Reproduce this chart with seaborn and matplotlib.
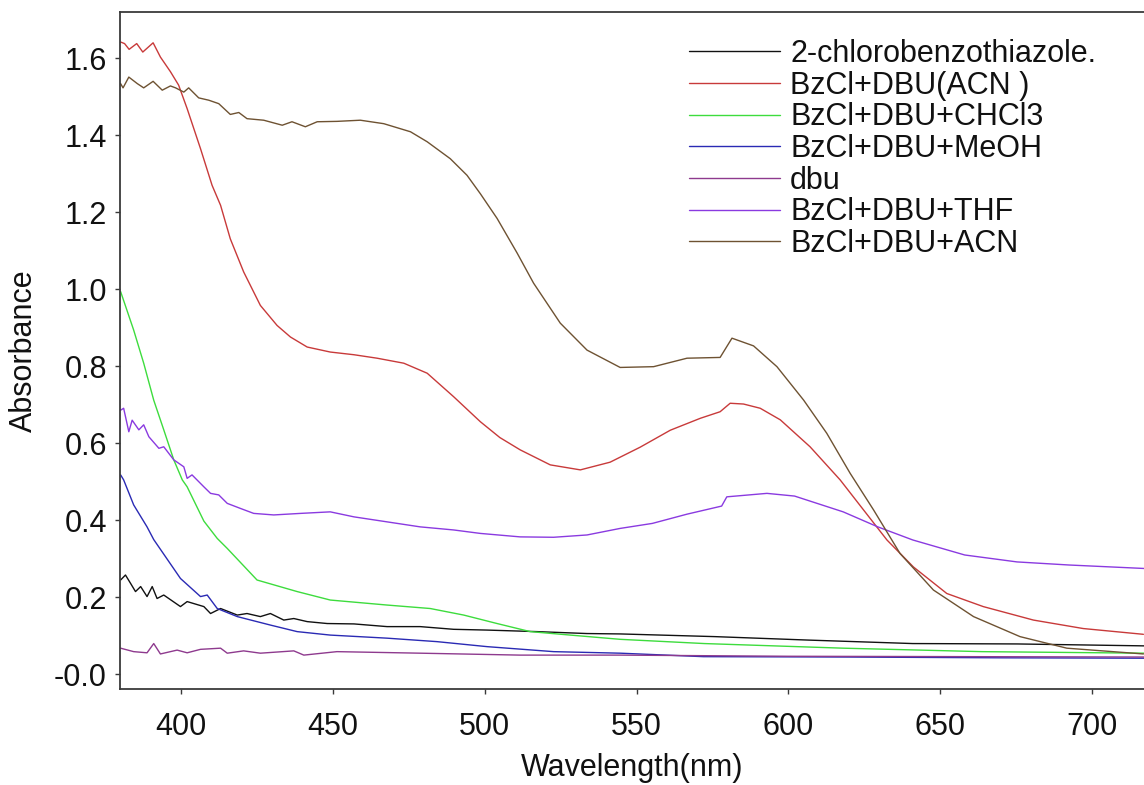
import numpy as np
import pandas as pd
import matplotlib
matplotlib.use("Agg")
import matplotlib.pyplot as plt
import seaborn as sns

# ---------------- data ----------------
series_names = ["2-chlorobenzothiazole.", "BzCl+DBU(ACN )", "BzCl+DBU+CHCl3",
                "BzCl+DBU+MeOH", "dbu", "BzCl+DBU+THF", "BzCl+DBU+ACN"]
series_colors = ["#111111", "#c83a3a", "#3ddc3d", "#2a2ab4", "#8e3a8e", "#8a3ae0", "#6e5232"]

chloro_x = [380.2, 381.8, 383.5, 385.1, 386.8, 388.9, 390.6, 392.2, 394.4, 399.9, 402.1, 407.6,
            409.8, 413.1, 418.6, 421.8, 426.2, 429.5, 433.9, 437.2, 441.6, 448.2, 457.0, 467.9,
            478.8, 489.8, 500.8, 517.2, 533.7, 544.6, 575.8, 606.6, 640.9, 675.2, 717.0]
chloro_y = [0.245, 0.258, 0.236, 0.215, 0.228, 0.202, 0.228, 0.197, 0.206, 0.176, 0.189, 0.176,
            0.158, 0.171, 0.154, 0.158, 0.150, 0.158, 0.141, 0.145, 0.137, 0.132, 0.131, 0.124,
            0.124, 0.117, 0.115, 0.111, 0.106, 0.105, 0.098, 0.089, 0.080, 0.079, 0.074]

acn1_x = [380.2, 381.5, 383.0, 385.5, 387.5, 390.9, 393.3, 396.6, 399.3, 402.1, 406.5, 410.3,
          413.1, 416.3, 420.7, 426.2, 431.7, 436.1, 441.6, 449.2, 457.0, 464.6, 473.4, 481.1,
          489.8, 498.6, 505.0, 511.7, 521.6, 531.5, 541.3, 551.2, 561.1, 571.0, 577.5, 580.8,
          585.2, 590.7, 597.3, 607.1, 617.0, 624.7, 632.4, 641.1, 652.1, 664.1, 680.6, 697.0, 716.8]
acn1_y = [1.642, 1.638, 1.623, 1.638, 1.616, 1.640, 1.603, 1.565, 1.530, 1.469, 1.365, 1.270,
          1.218, 1.131, 1.045, 0.958, 0.906, 0.876, 0.850, 0.837, 0.830, 0.821, 0.808, 0.782,
          0.721, 0.656, 0.615, 0.583, 0.544, 0.531, 0.551, 0.590, 0.634, 0.665, 0.682, 0.704,
          0.702, 0.691, 0.661, 0.591, 0.505, 0.427, 0.349, 0.279, 0.210, 0.176, 0.141, 0.119, 0.104]

chcl3_x = [380.2, 384.5, 387.8, 391.1, 394.4, 397.7, 400.5, 402.1, 407.6, 412.0, 415.3, 425.1,
           438.3, 449.2, 467.9, 482.1, 493.1, 504.1, 515.0, 528.2, 544.6, 572.3, 618.0, 663.7, 717.0]
chcl3_y = [0.994, 0.894, 0.808, 0.712, 0.635, 0.557, 0.505, 0.487, 0.398, 0.353, 0.327, 0.245,
           0.215, 0.193, 0.180, 0.171, 0.154, 0.132, 0.111, 0.102, 0.091, 0.080, 0.068, 0.059, 0.055]

meoh_x = [380.2, 381.2, 384.5, 388.9, 391.1, 399.9, 406.5, 408.7, 412.0, 418.6, 429.5, 438.3,
          449.2, 467.9, 484.3, 500.8, 522.7, 544.6, 572.0, 620.0, 670.0, 717.0]
meoh_y = [0.518, 0.505, 0.440, 0.383, 0.350, 0.249, 0.202, 0.206, 0.171, 0.150, 0.128, 0.111,
          0.102, 0.094, 0.085, 0.072, 0.059, 0.055, 0.046, 0.045, 0.043, 0.042]

dbu_x = [380.2, 384.5, 388.9, 391.1, 393.3, 398.8, 402.1, 406.5, 413.1, 415.3, 420.7, 426.2,
         437.2, 440.5, 451.4, 478.8, 511.7, 544.6, 600.0, 660.0, 717.0]
dbu_y = [0.068, 0.059, 0.056, 0.080, 0.053, 0.063, 0.056, 0.065, 0.068, 0.055, 0.061, 0.055,
         0.061, 0.050, 0.059, 0.055, 0.050, 0.050, 0.047, 0.046, 0.045]

thf_x = [380.2, 381.2, 382.9, 384.0, 386.2, 387.8, 389.5, 392.8, 394.4, 397.7, 401.0, 402.1,
         403.7, 407.6, 409.8, 412.5, 415.3, 419.6, 424.0, 430.6, 439.4, 449.2, 457.0, 467.9,
         478.8, 489.8, 498.6, 511.7, 522.7, 533.7, 544.6, 555.2, 566.6, 578.0, 579.7, 592.9,
         602.0, 618.0, 629.4, 640.9, 658.0, 675.2, 692.3, 717.0]
thf_y = [0.686, 0.691, 0.630, 0.660, 0.635, 0.648, 0.617, 0.587, 0.591, 0.557, 0.539, 0.509,
         0.518, 0.487, 0.470, 0.466, 0.444, 0.431, 0.418, 0.414, 0.418, 0.422, 0.409, 0.396,
         0.383, 0.375, 0.366, 0.357, 0.356, 0.362, 0.379, 0.392, 0.416, 0.437, 0.461, 0.470,
         0.463, 0.422, 0.383, 0.349, 0.310, 0.292, 0.284, 0.275]

acn2_x = [380.2, 381.0, 382.9, 385.7, 387.8, 390.9, 393.9, 396.6, 398.3, 401.0, 402.6, 405.9,
          409.2, 412.5, 416.3, 419.1, 421.8, 427.3, 433.4, 436.6, 441.0, 444.9, 451.4, 459.1,
          466.8, 475.6, 481.1, 488.7, 494.2, 498.6, 504.1, 510.7, 516.1, 524.9, 533.7, 544.6,
          555.6, 566.6, 577.5, 581.4, 588.5, 596.2, 605.0, 612.6, 620.3, 628.0, 636.7, 647.7,
          660.9, 676.2, 691.6, 716.8]
acn2_y = [1.534, 1.523, 1.551, 1.534, 1.523, 1.540, 1.517, 1.528, 1.523, 1.512, 1.523, 1.497,
          1.491, 1.482, 1.454, 1.459, 1.443, 1.439, 1.426, 1.435, 1.422, 1.435, 1.436, 1.439,
          1.430, 1.409, 1.383, 1.339, 1.296, 1.248, 1.184, 1.094, 1.016, 0.912, 0.842, 0.797,
          0.799, 0.821, 0.823, 0.873, 0.853, 0.799, 0.712, 0.626, 0.522, 0.427, 0.314, 0.219,
          0.150, 0.098, 0.068, 0.053]

x_ticks = [400, 450, 500, 550, 600, 650, 700]
y_ticks = [0.0, 0.2, 0.4, 0.6, 0.8, 1.0, 1.2, 1.4, 1.6]
y_tick_labels = ["-0.0", "0.2", "0.4", "0.6", "0.8", "1.0", "1.2", "1.4", "1.6"]

# ---------------- build long-form table ----------------
all_x = [chloro_x, acn1_x, chcl3_x, meoh_x, dbu_x, thf_x, acn2_x]
all_y = [chloro_y, acn1_y, chcl3_y, meoh_y, dbu_y, thf_y, acn2_y]
frames = []
for name, xs, ys in zip(series_names, all_x, all_y):
    frames.append(pd.DataFrame({"Wavelength": xs, "Absorbance": ys, "Series": name}))
df = pd.concat(frames, ignore_index=True)

# ---------------- plot ----------------
sns.set_theme(style="white")
plt.rcParams["font.family"] = ["Liberation Sans", "DejaVu Sans"]
plt.rcParams["text.color"] = "#111111"

fig = plt.figure(figsize=(11.44, 7.85), dpi=100)
ax = fig.add_axes([120 / 1144, 1 - 689 / 785, 1 - 120 / 1144, (689 - 12) / 785])

sns.lineplot(data=df, x="Wavelength", y="Absorbance", hue="Series",
             hue_order=series_names, palette=dict(zip(series_names, series_colors)),
             estimator=None, sort=False, linewidth=1.0, ax=ax)

ax.set_xlim(380, 717)
ax.set_ylim(-0.038, 1.72)
ax.set_xticks(x_ticks)
ax.set_yticks(y_ticks)
ax.set_yticklabels(y_tick_labels)

for side in ["left", "bottom", "top"]:
    ax.spines[side].set_visible(True)
    ax.spines[side].set_color("#3a3a3a")
    ax.spines[side].set_linewidth(1.3)
ax.spines["right"].set_visible(False)

ax.tick_params(axis="both", which="major", direction="out", length=3.5, width=1.0,
               color="#3a3a3a", labelsize=22, labelcolor="#111111", left=True, bottom=True)
ax.tick_params(axis="x", pad=13)
ax.tick_params(axis="y", pad=6)

ax.set_xlabel("Wavelength(nm)", fontsize=22, color="#111111", labelpad=8)
ax.set_ylabel("Absorbance", fontsize=22, color="#111111", labelpad=11)

leg = ax.legend(loc="upper left", bbox_to_anchor=(0.556, 0.96), frameon=False,
                fontsize=22, handlelength=2.97, handletextpad=0.33, labelspacing=0.055,
                borderpad=0, borderaxespad=0)
for h in leg.get_lines():
    h.set_linewidth(1.0)
for t in leg.get_texts():
    t.set_color("#111111")

fig.savefig("out.png", dpi=100)
